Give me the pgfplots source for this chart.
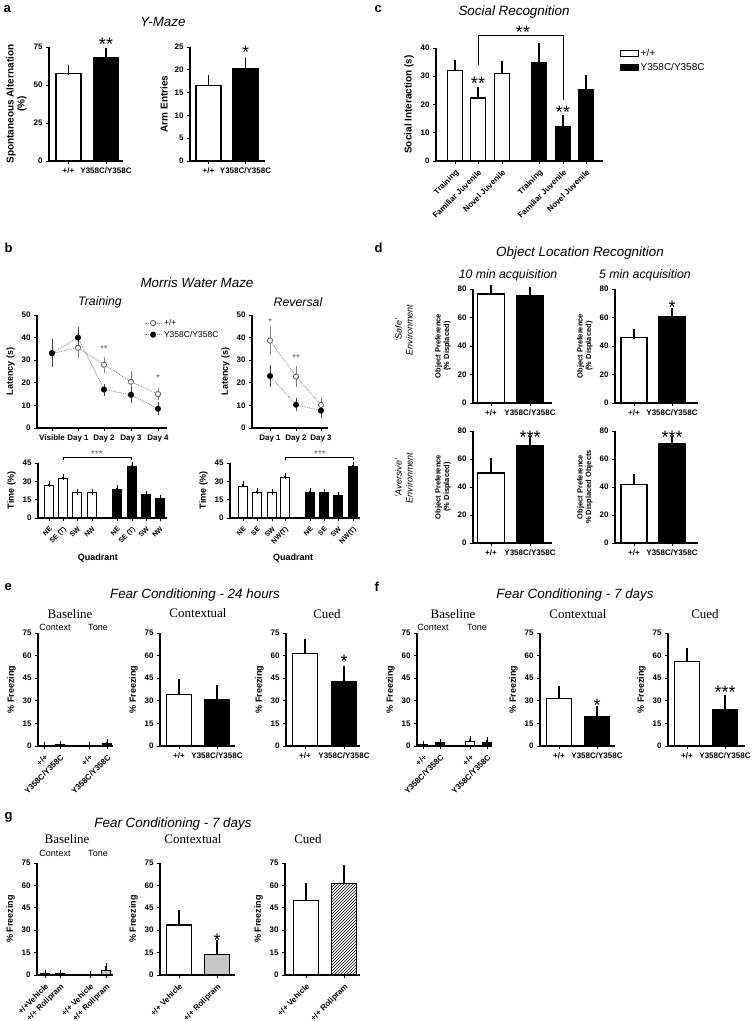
\documentclass[border=0pt]{standalone}
\usepackage{fontspec}
\setmainfont{Liberation Sans}
\newfontfamily\serifb{Liberation Serif}
\usepackage{pgfplots}
\pgfplotsset{compat=1.18}
\usetikzlibrary{patterns}

\newcommand\tk{\bfseries\fontsize{8}{9}\selectfont}
\newcommand\tks{\bfseries\fontsize{7}{8}\selectfont}
\newcommand\lb{\bfseries\fontsize{9}{10}\selectfont}
\newcommand\lbl{\bfseries\fontsize{10}{11}\selectfont}
\newcommand\lbs{\bfseries\fontsize{7.5}{8.5}\selectfont}
\newcommand\ttl{\itshape\fontsize{13.4}{14}\selectfont}
\newcommand\sub{\itshape\fontsize{12.3}{13}\selectfont}
\newcommand\srf{\serifb\fontsize{13}{14}\selectfont}
\newcommand\ctx{\fontsize{9}{10}\selectfont}
\newcommand\plet{\bfseries\fontsize{13}{14}\selectfont}

\tikzset{
 bstar/.style={font=\fontsize{18}{18}\selectfont, inner sep=0pt, anchor=base, yshift=-10.4pt},
 sstar/.style={font=\fontsize{10}{10}\selectfont, inner sep=0pt, anchor=base, yshift=-5.8pt, text=gray!80!black},
}

\pgfplotsset{
 gp/.style={scale only axis, anchor=south west, axis lines*=left,
   axis line style={-, line width=1.2pt}, every tick/.style={black, line width=0.9pt},
   tick align=outside, major tick length=3pt, enlargelimits=false, ymin=0, clip=false,
   tick label style={font=\tk}, ylabel style={font=\lb, align=center},
   xlabel style={font=\lb}, /pgf/number format/assume math mode=true},
 wb/.style={ybar, bar shift=0pt, draw=black, fill=white, line width=1.1pt,
   error bars/y dir=plus, error bars/y explicit,
   error bars/error bar style={line width=1.1pt, black},
   error bars/error mark options={line width=1.1pt, mark size=5pt, black}},
 bb/.style={wb, fill=black},
 gb/.style={wb, fill=gray!45},
 hb/.style={wb, fill=white, pattern=north east lines},
 openl/.style={densely dotted, color=gray, line width=0.8pt, mark=*, mark size=2.6pt,
   mark options={solid, fill=white, draw=gray!80!black, line width=0.9pt},
   error bars/y dir=both, error bars/y explicit,
   error bars/error bar style={solid, gray, line width=0.8pt},
   error bars/error mark options={solid, gray, line width=0.8pt, mark size=3pt}},
 filledl/.style={openl, mark options={solid, fill=black, draw=black},
   error bars/error bar style={solid, black!75, line width=0.8pt},
   error bars/error mark options={solid, black!75, line width=0.8pt, mark size=3pt}},
}

\begin{document}
\begin{tikzpicture}
\useasboundingbox (0pt,0pt) rectangle (755pt,1021pt);

% ---------------- a
\begin{axis}[gp, at={(49pt,860pt)}, width=74pt, height=114pt, xmin=49, xmax=123, ymax=75,
  ytick={0,25,50,75}, xtick={68.5,106}, xticklabels={+/+,Y358C/Y358C},
  ylabel={Spontaneous Alternation\\(\%)}, ylabel style={font=\lbl}]
\addplot[wb, bar width=25pt] coordinates {(68.5,57.5) +- (0,2.5)};
\addplot[bb, bar width=25pt] coordinates {(106,68) +- (0,3)};
\node[bstar] at (axis cs:106,79.6) {**};
\end{axis}

\begin{axis}[gp, at={(190pt,860pt)}, width=75pt, height=114pt, xmin=190, xmax=265, ymax=25,
  ytick={0,5,...,25}, xtick={208.5,245.5}, xticklabels={+/+,Y358C/Y358C},
  ylabel={Arm Entries}, ylabel style={font=\lbl}]
\addplot[wb, bar width=25pt] coordinates {(208.5,16.5) +- (0,1.2)};
\addplot[bb, bar width=25pt] coordinates {(245.5,20.2) +- (0,1.3)};
\node[bstar] at (axis cs:245.5,24.8) {*};
\end{axis}

% ---------------- c
\begin{axis}[gp, at={(436pt,860pt)}, width=167pt, height=113pt, xmin=436, xmax=603, ymax=40,
  ytick={0,10,...,40}, xtick={455,478,502,539,563,586},
  xticklabels={Training,Familiar Juvenile,Novel Juvenile,Training,Familiar Juvenile,Novel Juvenile},
  xticklabel style={rotate=45, anchor=north east},
  ylabel={Social Interaction (s)}, ylabel style={font=\lbl},
  legend style={at={(1.08,1.03)}, anchor=north west, draw=none, fill=none, font=\fontsize{10}{11}\selectfont, row sep=2pt},
  legend cell align=left,
  legend image code/.code={\draw[#1] (0pt,-3pt) rectangle (18pt,3pt);}]
\addplot[wb, bar width=15pt] coordinates {(455,32) +- (0,2) (478,22.3) +- (0,2.3) (502,31) +- (0,2.7)};
\addplot[bb, bar width=15pt] coordinates {(539,34.8) +- (0,5.2) (563,12.2) +- (0,2.4) (586,25.3) +- (0,3.2)};
\legend{+/+,Y358C/Y358C}
\node[bstar] at (axis cs:478,29) {**};
\node[bstar] at (axis cs:563,18.8) {**};
\node[bstar] at (axis cs:523,47) {**};
\draw[line width=0.8pt] (axis cs:478,34) -- (axis cs:478,44.6) -- (axis cs:563,44.6) -- (axis cs:563,21.6);
\end{axis}

% ---------------- b
\begin{axis}[gp, at={(37pt,593pt)}, width=130pt, height=113pt, xmin=37, xmax=167, ymax=50,
  ytick={0,10,...,50}, xtick={52,78,104,131,158},
  xticklabels={Visible,Day 1,Day 2,Day 3,Day 4}, ylabel={Latency (s)},
  legend style={at={(0.8,1.0)}, anchor=north west, draw=none, fill=none, font=\fontsize{8.5}{10}\selectfont},
  legend cell align=left]
\addplot[openl] coordinates {(52,33) +- (0,0) (78,35.5) +- (0,3) (104,28) +- (0,2.3) (131,20.5) +- (0,3.3) (158,15) +- (0,1.5)};
\addplot[filledl] coordinates {(52,33.2) +- (0,4.7) (78,40) +- (0,3.5) (104,17) +- (0,1.3) (131,14.7) +- (0,2.2) (158,8.5) +- (0,1.5)};
\legend{+/+,Y358C/Y358C}
\node[sstar] at (axis cs:104,36) {**};
\node[sstar] at (axis cs:158,23) {*};
\end{axis}

\begin{axis}[gp, at={(252pt,593pt)}, width=76pt, height=113pt, xmin=252, xmax=328, ymax=50,
  ytick={0,10,...,50}, xtick={270,296,321},
  xticklabels={Day 1,Day 2,Day 3}, ylabel={Latency (s)}]
\addplot[openl] coordinates {(270,38.7) +- (0,5) (296,22.8) +- (0,3.2) (321,10.2) +- (0,2)};
\addplot[filledl] coordinates {(270,23) +- (0,3.5) (296,10.3) +- (0,1.5) (321,7.7) +- (0,2)};
\node[sstar] at (axis cs:270,48) {*};
\node[sstar] at (axis cs:296,32) {**};
\end{axis}

\begin{axis}[gp, at={(38pt,503pt)}, width=129pt, height=55pt, xmin=38, xmax=167, ymax=45,
  ytick={0,15,30,45}, xtick={49,63,77,92,117,132,146,160},
  xticklabels={NE,SE (T),SW,NW,NE,SE (T),SW,NW},
  xticklabel style={rotate=45, anchor=north east, font=\tks},
  ylabel={Time (\%)}, xlabel={Quadrant},
  xlabel style={at={(axis description cs:0.465,-0.73)}, anchor=center}]
\addplot[wb, bar width=9pt, error bars/error mark options={mark size=3pt}] coordinates {(49,26.5) +- (0,1.5) (63,32.5) +- (0,0.7) (77,20.5) +- (0,0.7) (92,20.5) +- (0,0.7)};
\addplot[bb, bar width=9pt, error bars/error mark options={mark size=3pt}] coordinates {(117,23.5) +- (0,1.2) (132,42) +- (0,1.2) (146,19.5) +- (0,0.5) (160,15.7) +- (0,1)};
\draw[line width=0.7pt] (axis cs:63,47.5) |- (axis cs:131,49.9) -- (axis cs:131,47.5);
\node[sstar] at (axis cs:97,54) {***};
\end{axis}

\begin{axis}[gp, at={(230pt,503pt)}, width=130pt, height=55pt, xmin=230, xmax=360, ymax=45,
  ytick={0,15,30,45}, xtick={243,257,272,285,310,324,338,353},
  xticklabels={NE,SE,SW,NW(T),NE,SE,SW,NW(T)},
  xticklabel style={rotate=45, anchor=north east, font=\tks},
  ylabel={Time (\%)}, xlabel={Quadrant},
  xlabel style={at={(axis description cs:0.485,-0.73)}, anchor=center}]
\addplot[wb, bar width=9pt, error bars/error mark options={mark size=3pt}] coordinates {(243,25.5) +- (0,2) (257,21) +- (0,0.7) (272,20.5) +- (0,0.5) (285,33.5) +- (0,1)};
\addplot[bb, bar width=9pt, error bars/error mark options={mark size=3pt}] coordinates {(310,21) +- (0,0.7) (324,20.5) +- (0,0.5) (338,18.5) +- (0,0.7) (353,42) +- (0,1.5)};
\draw[line width=0.7pt] (axis cs:285,47.5) |- (axis cs:353,49.9) -- (axis cs:353,47.5);
\node[sstar] at (axis cs:320,54) {***};
\end{axis}

% ---------------- d
\begin{axis}[gp, at={(473pt,618pt)}, width=79pt, height=114pt, xmin=473, xmax=552, ymax=80,
  ytick={0,20,...,80}, xtick={491,530}, xticklabels={+/+,Y358C/Y358C},
  ylabel={Object Preference\\(\% Displaced)}, ylabel style={font=\lbs}]
\addplot[wb, bar width=27pt] coordinates {(491,76.5) +- (0,3)};
\addplot[bb, bar width=27pt] coordinates {(530,75.5) +- (0,2.5)};
\end{axis}

\begin{axis}[gp, at={(615pt,618pt)}, width=83pt, height=114pt, xmin=615, xmax=698, ymax=80,
  ytick={0,20,...,80}, xtick={634,672}, xticklabels={+/+,Y358C/Y358C},
  ylabel={Object Preference\\(\% Displaced)}, ylabel style={font=\lbs}]
\addplot[wb, bar width=26pt] coordinates {(634,46) +- (0,2.5)};
\addplot[bb, bar width=26pt] coordinates {(672,61) +- (0,2)};
\node[bstar] at (axis cs:672,70) {*};
\end{axis}

\begin{axis}[gp, at={(473pt,478pt)}, width=79pt, height=112pt, xmin=473, xmax=552, ymax=80,
  ytick={0,20,...,80}, xtick={491,530}, xticklabels={+/+,Y358C/Y358C},
  ylabel={Object Preference\\(\% Displaced)}, ylabel style={font=\lbs}]
\addplot[wb, bar width=27pt] coordinates {(491,50) +- (0,7)};
\addplot[bb, bar width=27pt] coordinates {(530,69.5) +- (0,3.5)};
\node[bstar] at (axis cs:530,78.6) {***};
\end{axis}

\begin{axis}[gp, at={(615pt,478pt)}, width=83pt, height=112pt, xmin=615, xmax=698, ymax=80,
  ytick={0,20,...,80}, xtick={634,672}, xticklabels={+/+,Y358C/Y358C},
  ylabel={Object Preference\\\% Displaced Objects}, ylabel style={font=\lbs}]
\addplot[wb, bar width=26pt] coordinates {(634,41.5) +- (0,4.5)};
\addplot[bb, bar width=26pt] coordinates {(672,71) +- (0,1.5)};
\node[bstar] at (axis cs:672,78.6) {***};
\end{axis}

% ---------------- e
\begin{axis}[gp, at={(38pt,275pt)}, width=75pt, height=113pt, xmin=38, xmax=113, ymax=75,
  ytick={0,15,...,75}, xtick={44,60,89,107},
  xticklabels={+/+,Y358C/Y358C,+/+,Y358C/Y358C},
  xticklabel style={rotate=45, anchor=north east}, ylabel={\% Freezing}]
\addplot[wb, bar width=9pt, error bars/error mark options={mark size=3pt}] coordinates {(44,0.5) +- (0,0.2) (89,0.4) +- (0,0.2)};
\addplot[bb, bar width=9pt, error bars/error mark options={mark size=3pt}] coordinates {(60,1.0) +- (0,0.3) (107,1.5) +- (0,1)};
\end{axis}

\begin{axis}[gp, at={(160pt,275pt)}, width=75pt, height=113pt, xmin=160, xmax=235, ymax=75,
  ytick={0,15,...,75}, xtick={179,217}, xticklabels={+/+,Y358C/Y358C}, ylabel={\% Freezing}]
\addplot[wb, bar width=25pt] coordinates {(179,34) +- (0,7)};
\addplot[bb, bar width=25pt] coordinates {(217,30.5) +- (0,6.5)};
\end{axis}

\begin{axis}[gp, at={(286pt,275pt)}, width=74pt, height=113pt, xmin=286, xmax=360, ymax=75,
  ytick={0,15,...,75}, xtick={305,344}, xticklabels={+/+,Y358C/Y358C}, ylabel={\% Freezing}]
\addplot[wb, bar width=25pt] coordinates {(305,61.5) +- (0,6.5)};
\addplot[bb, bar width=25pt] coordinates {(344,42.5) +- (0,7.5)};
\node[bstar] at (axis cs:344,59) {*};
\end{axis}

% ---------------- f
\begin{axis}[gp, at={(417pt,275pt)}, width=73pt, height=113pt, xmin=417, xmax=490, ymax=75,
  ytick={0,15,...,75}, xtick={423,440,470,487},
  xticklabels={+/+,Y358C/Y358C,+/+,Y358C/Y358C},
  xticklabel style={rotate=45, anchor=north east}, ylabel={\% Freezing}]
\addplot[wb, bar width=9pt, error bars/error mark options={mark size=3pt}] coordinates {(423,1.0) +- (0,0.4) (470,3) +- (0,1.5)};
\addplot[bb, bar width=9pt, error bars/error mark options={mark size=3pt}] coordinates {(440,2.0) +- (0,0.6) (487,2.5) +- (0,1.5)};
\end{axis}

\begin{axis}[gp, at={(540pt,275pt)}, width=75pt, height=113pt, xmin=540, xmax=615, ymax=75,
  ytick={0,15,...,75}, xtick={559,597}, xticklabels={+/+,Y358C/Y358C}, ylabel={\% Freezing}]
\addplot[wb, bar width=25pt] coordinates {(559,31.5) +- (0,5)};
\addplot[bb, bar width=25pt] coordinates {(597,19.5) +- (0,3.5)};
\node[bstar] at (axis cs:597,30) {*};
\end{axis}

\begin{axis}[gp, at={(668pt,275pt)}, width=77pt, height=113pt, xmin=668, xmax=745, ymax=75,
  ytick={0,15,...,75}, xtick={687,725}, xticklabels={+/+,Y358C/Y358C}, ylabel={\% Freezing}]
\addplot[wb, bar width=25pt] coordinates {(687,56) +- (0,5.5)};
\addplot[bb, bar width=25pt] coordinates {(725,24.5) +- (0,6)};
\node[bstar] at (axis cs:725,38.5) {***};
\end{axis}

% ---------------- g
\begin{axis}[gp, at={(37pt,46pt)}, width=76pt, height=112pt, xmin=37, xmax=113, ymax=75,
  ytick={0,15,...,75}, xtick={45,60,90,106},
  xticklabels={+/+Vehicle,+/+ Rolipram,+/+ Vehicle,+/+ Rolipram},
  xticklabel style={rotate=45, anchor=north east}, ylabel={\% Freezing}]
\addplot[wb, bar width=9pt, error bars/error mark options={mark size=3pt}] coordinates {(45,1.0) +- (0,0.5) (90,0.3) +- (0,0.2)};
\addplot[gb, bar width=9pt, error bars/error mark options={mark size=3pt}] coordinates {(60,0.8) +- (0,0.4) (106,3) +- (0,3)};
\end{axis}

\begin{axis}[gp, at={(160pt,46pt)}, width=75pt, height=112pt, xmin=160, xmax=235, ymax=75,
  ytick={0,15,...,75}, xtick={179,217}, xticklabels={+/+ Vehicle,+/+ Rolipram},
  xticklabel style={rotate=45, anchor=north east}, ylabel={\% Freezing}]
\addplot[wb, bar width=25pt] coordinates {(179,33.5) +- (0,7)};
\addplot[gb, bar width=25pt] coordinates {(217,14) +- (0,6)};
\node[bstar] at (axis cs:217,26) {*};
\end{axis}

\begin{axis}[gp, at={(285pt,46pt)}, width=75pt, height=112pt, xmin=285, xmax=360, ymax=75,
  ytick={0,15,...,75}, xtick={306,344}, xticklabels={+/+ Vehicle,+/+ Rolipram},
  xticklabel style={rotate=45, anchor=north east}, ylabel={\% Freezing}]
\addplot[wb, bar width=25pt] coordinates {(306,50) +- (0,8)};
\addplot[hb, bar width=25pt] coordinates {(344,61) +- (0,9.5)};
\end{axis}

% ---------------- texts
\node[anchor=west, font=\plet] at (0pt,1012pt) {a};
\node[font=\ttl] at (163pt,999pt) {Y-Maze};
\node[anchor=west, font=\plet] at (371pt,1012pt) {c};
\node[font=\ttl] at (514pt,1009pt) {Social Recognition};

\node[anchor=west, font=\plet] at (1pt,773pt) {b};
\node[font=\ttl] at (197pt,738pt) {Morris Water Maze};
\node[font=\sub] at (100pt,719pt) {Training};
\node[font=\sub] at (298pt,719pt) {Reversal};

\node[anchor=west, font=\plet] at (371pt,773pt) {d};
\node[font=\ttl] at (580pt,768pt) {Object Location Recognition};
\node[font=\sub] at (508pt,746pt) {10 min acquisition};
\node[font=\sub] at (645pt,746pt) {5 min acquisition};
\node[rotate=90, align=center, font=\itshape\fontsize{9}{11}\selectfont] at (404pt,691pt) {‘Safe’\\Environment};
\node[rotate=90, align=center, font=\itshape\fontsize{9}{11}\selectfont] at (404pt,543pt) {‘Aversive’\\Environment};

\node[anchor=west, font=\plet] at (1pt,434pt) {e};
\node[font=\ttl] at (195pt,426pt) {Fear Conditioning - 24 hours};
\node[font=\srf] at (70pt,407pt) {Baseline};
\node[font=\srf] at (198pt,408pt) {Contextual};
\node[font=\srf] at (327pt,407pt) {Cued};
\node[font=\ctx] at (55pt,394pt) {Context};
\node[font=\ctx] at (98pt,394pt) {Tone};

\node[anchor=west, font=\plet] at (371pt,434pt) {f};
\node[font=\ttl] at (575pt,426pt) {Fear Conditioning - 7 days};
\node[font=\srf] at (453pt,407pt) {Baseline};
\node[font=\srf] at (578pt,407pt) {Contextual};
\node[font=\srf] at (705pt,407pt) {Cued};
\node[font=\ctx] at (433pt,394pt) {Context};
\node[font=\ctx] at (477pt,394pt) {Tone};

\node[anchor=west, font=\plet] at (1pt,204pt) {g};
\node[font=\ttl] at (173pt,197pt) {Fear Conditioning - 7 days};
\node[font=\srf] at (67pt,182pt) {Baseline};
\node[font=\srf] at (193pt,182pt) {Contextual};
\node[font=\srf] at (308pt,182pt) {Cued};
\node[font=\ctx] at (55pt,168pt) {Context};
\node[font=\ctx] at (98pt,168pt) {Tone};
\end{tikzpicture}
\end{document}
